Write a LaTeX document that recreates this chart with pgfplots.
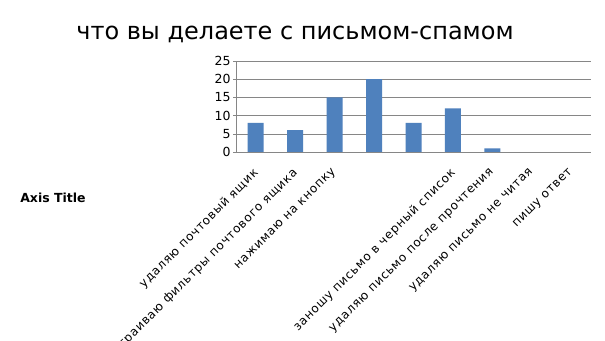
\documentclass[border=0pt]{standalone}
\usepackage{pgfplots}
\pgfplotsset{compat=1.18}
\usepackage{fontspec}
\setmainfont{DejaVu Sans}
\definecolor{barblue}{HTML}{4F81BD}
\definecolor{gridgray}{HTML}{868686}
\begin{document}
\begin{tikzpicture}[x=1pt,y=1pt]
\fill[white] (0,0) rectangle (605,340);
\node[font=\fontsize{24}{28}\selectfont] at (295,306) {что вы делаете с письмом-спамом};
\node[font=\fontsize{12.5}{14}\selectfont\bfseries] at (53,142) {Axis Title};
\begin{axis}[
  at={(236pt,188pt)}, anchor=south west,
  width=355pt, height=91pt, scale only axis,
  xmin=0.5, xmax=9.5, ymin=0, ymax=25,
  ytick={0,5,10,15,20,25},
  xtick={1,2,3,4,5,6,7,8,9},
  xticklabels={удаляю почтовый ящик, настраиваю фильтры почтового ящика, нажимаю на кнопку, , , заношу письмо в черный список, удаляю письмо после прочтения, удаляю письмо не читая, пишу ответ},
  x tick label style={rotate=45, anchor=north east, font=\fontsize{12}{14}\selectfont\addfontfeatures{LetterSpace=6}, inner sep=0pt, yshift=-6pt, xshift=-11pt},
  y tick label style={font=\fontsize{12.5}{14}\selectfont, xshift=1pt},
  /pgf/number format/assume math mode=true,
  axis x line*=bottom, axis y line*=left,
  axis line style={gridgray},
  ymajorgrids, grid style={gridgray},
  major tick length=3pt,
  xtick style={draw=none},
  ytick style={gridgray},
  tick align=outside,
  ybar, bar width=16pt,
]
\addplot[fill=barblue, draw=none] coordinates {(1,8) (2,6) (3,15) (4,20) (5,8) (6,12) (7,1)};
\end{axis}
\pgfresetboundingbox
\path (0,0) rectangle (605,340);
\end{tikzpicture}
\end{document}
